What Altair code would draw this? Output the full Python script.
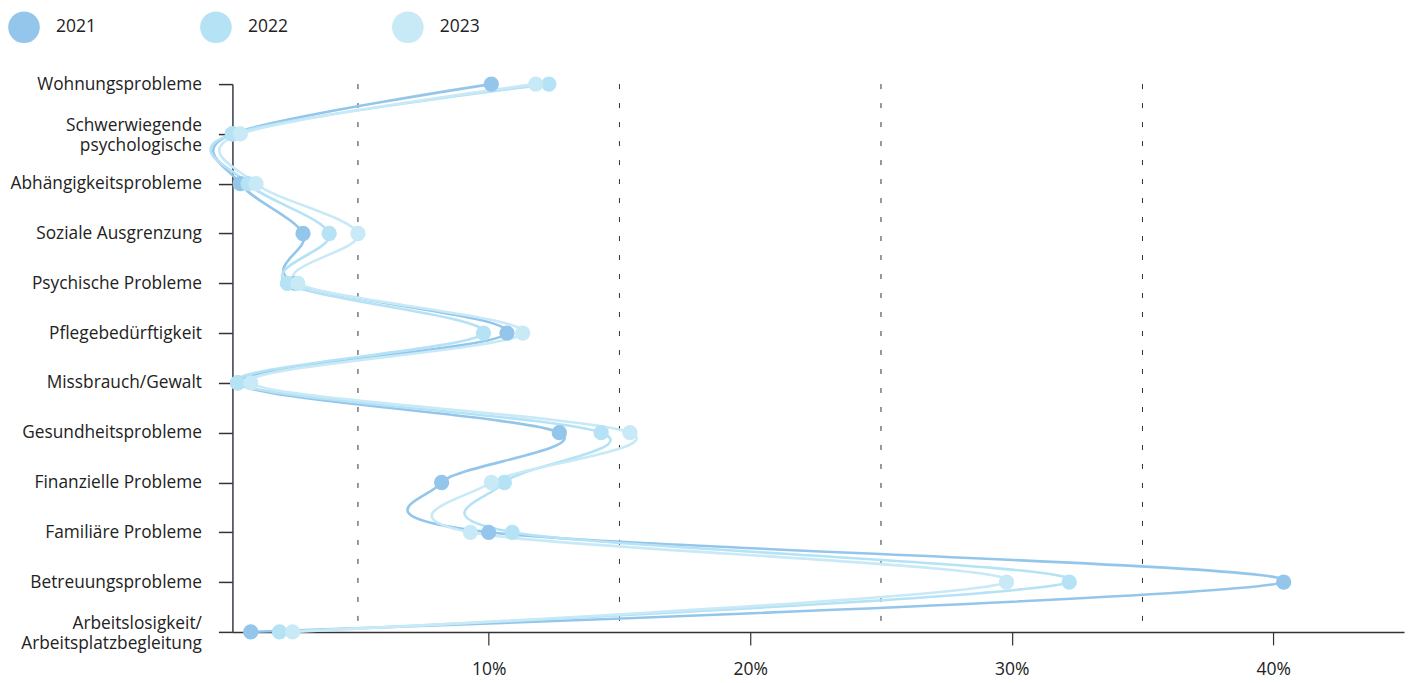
import altair as alt
import pandas as pd

categories = [
    "Wohnungsprobleme",
    "Schwerwiegende|psychologische",
    "Abhängigkeitsprobleme",
    "Soziale Ausgrenzung",
    "Psychische Probleme",
    "Pflegebedürftigkeit",
    "Missbrauch/Gewalt",
    "Gesundheitsprobleme",
    "Finanzielle Probleme",
    "Familiäre Probleme",
    "Betreuungsprobleme",
    "Arbeitslosigkeit/|Arbeitsplatzbegleitung",
]
years = ["2021", "2022", "2023"]
v2021 = [10.1, 0.2, 0.5, 2.9, 2.6, 10.7, 0.4, 12.7, 8.2, 10.0, 40.4, 0.9]
v2022 = [12.3, 0.2, 0.8, 3.9, 2.3, 9.8, 0.4, 14.3, 10.6, 10.9, 32.2, 2.0]
v2023 = [11.8, 0.5, 1.1, 5.0, 2.7, 11.3, 0.9, 15.4, 10.1, 9.3, 29.8, 2.5]
colors = ["#94c6ec", "#b5e2f5", "#c8e9f6"]
grid_values = [5, 15, 25, 35]
tick_values = [10, 20, 30, 40]

rows = []
for year, vals in zip(years, [v2021, v2022, v2023]):
    for i, (cat, v) in enumerate(zip(categories, vals)):
        rows.append({"Jahr": year, "Kategorie": cat, "Wert": v, "idx": i})
df = pd.DataFrame(rows)
grid_df = pd.DataFrame({"g": grid_values})

FONT = "Open Sans"
TXT = "#222222"
AX = "#333333"

x_scale = alt.Scale(domain=[0.2, 45], nice=False, zero=False)
y_scale = alt.Scale(type="point", domain=categories, padding=0)
color_scale = alt.Scale(domain=years, range=colors)

x_axis = alt.Axis(
    values=tick_values, labelExpr="datum.value + '%'", grid=False,
    tickSize=13, tickColor=AX, tickWidth=1.2, domainColor=AX, domainWidth=1.5,
    labelFont=FONT, labelFontSize=17.5, labelColor=TXT, labelPadding=16, title=None,
)
y_axis = alt.Axis(
    labelExpr="split(datum.label, '|')", grid=False,
    tickSize=14, tickColor=AX, tickWidth=1.5, domainColor="#3a3a48", domainWidth=1.5,
    labelFont=FONT, labelFontSize=17.3, labelColor=TXT, labelPadding=17, labelLimit=400,
    labelLineHeight=20, labelBaseline="middle", title=None, labelOverlap=False,
    labelOffset={"condition": {"test": "indexof(datum.value, '|') >= 0", "value": -8}, "value": 0},
)

legend = alt.Legend(
    title=None, orient="none", legendX=-224.5, legendY=-73,
    direction="horizontal", symbolType="circle", symbolSize=1000,
    symbolStrokeWidth=0, symbolOpacity=1,
    labelFont=FONT, labelFontSize=17.5, labelColor=TXT,
    labelOffset=16, columnPadding=103, padding=0,
)

rules = alt.Chart(grid_df).mark_rule(
    color=AX, strokeWidth=1, strokeDash=[5, 14]
).encode(x=alt.X("g:Q", scale=x_scale, axis=x_axis))

lines = alt.Chart(df).mark_line(
    interpolate="cardinal", strokeWidth=2.6
).encode(
    x=alt.X("Wert:Q", scale=x_scale, axis=x_axis),
    y=alt.Y("Kategorie:N", scale=y_scale, axis=y_axis, sort=categories),
    color=alt.Color("Jahr:N", scale=color_scale, legend=legend),
    order=alt.Order("idx:Q"),
    detail="Jahr:N",
)

points = alt.Chart(df).mark_point(
    filled=True, size=235, opacity=1, shape="circle", strokeWidth=0
).encode(
    x=alt.X("Wert:Q", scale=x_scale, axis=x_axis),
    y=alt.Y("Kategorie:N", scale=y_scale, axis=y_axis, sort=categories),
    color=alt.Color("Jahr:N", scale=color_scale, legend=legend),
)

chart = alt.layer(rules, lines, points).properties(
    width=1172, height=548,
    background="white",
    autosize=alt.AutoSizeParams(type="none"),
    padding={"left": 224.5, "top": 76, "right": 2, "bottom": 50},
).configure_view(stroke=None)

chart.save("out.html", embed_options={"renderer": "svg", "actions": False})
